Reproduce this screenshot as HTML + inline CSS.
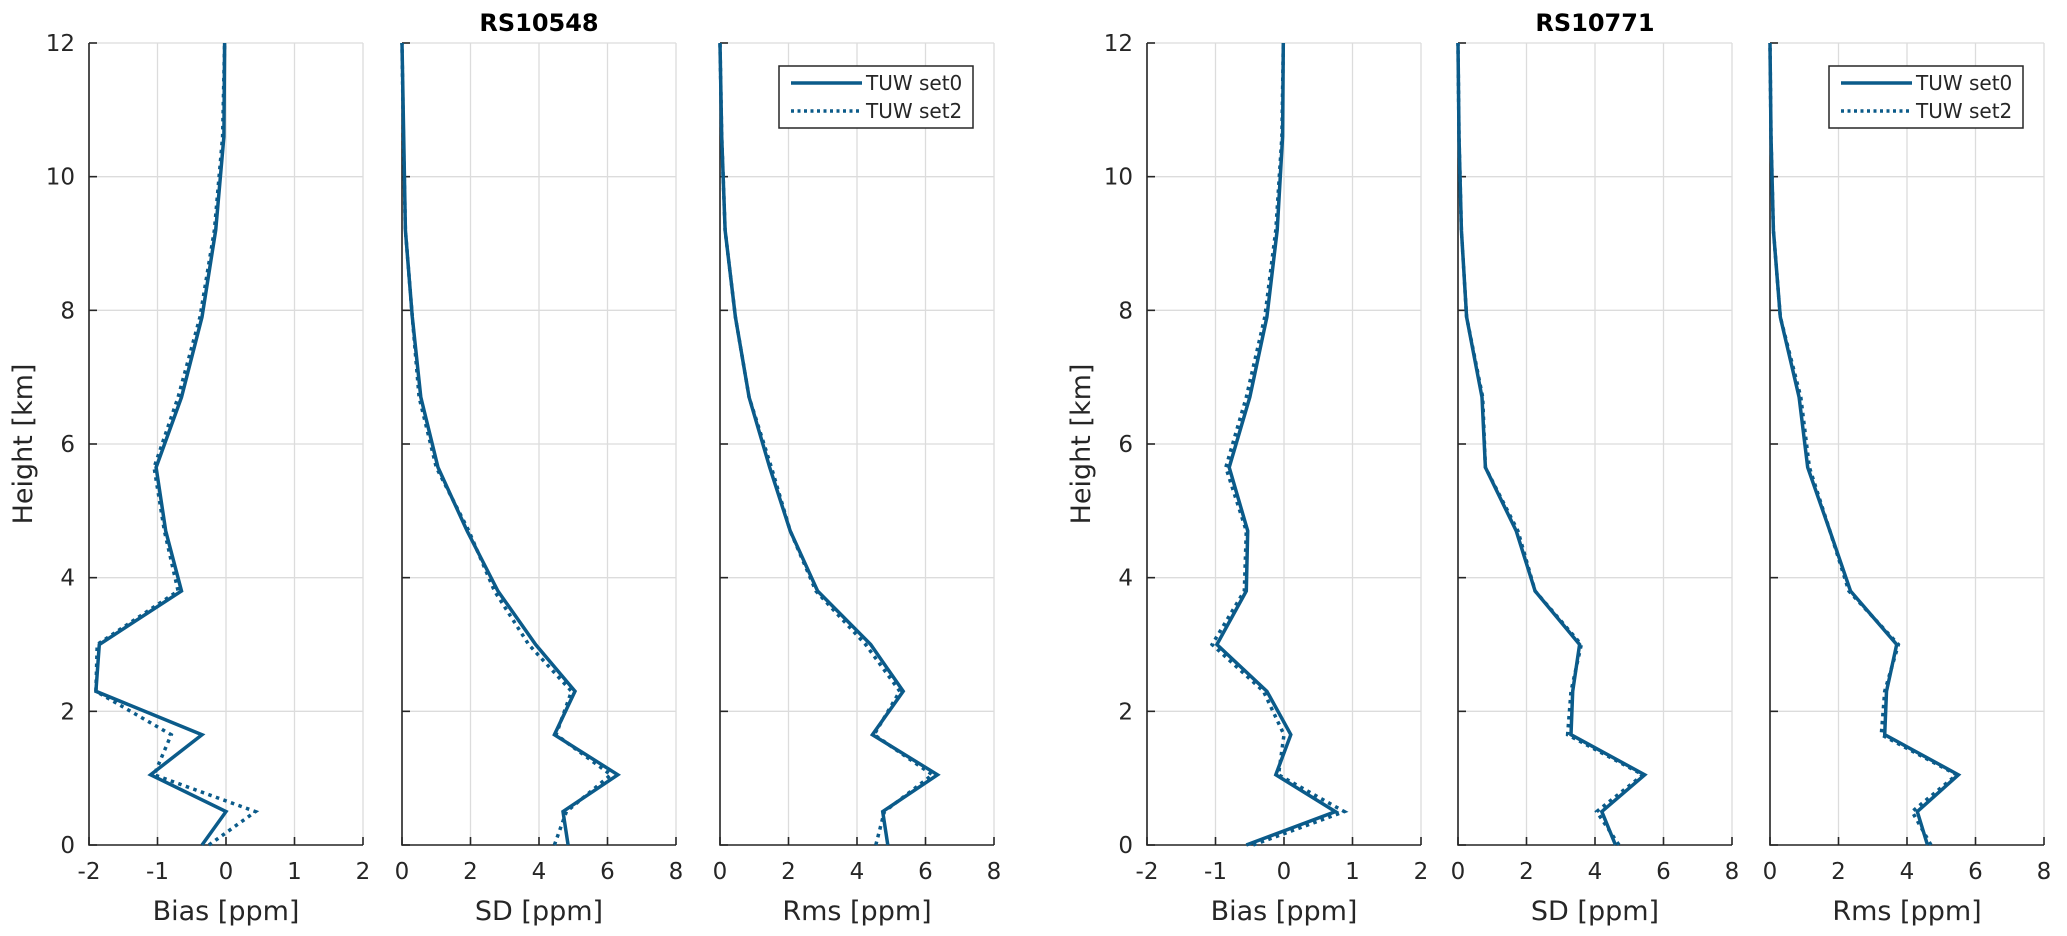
<!DOCTYPE html>
<html><head><meta charset="utf-8"><style>
html,body{margin:0;padding:0;background:#fff;}
svg{display:block;font-family:"DejaVu Sans","Liberation Sans",sans-serif;}
</style></head><body>
<svg id="chart" width="2067" height="936" viewBox="0 0 2067 936" xmlns="http://www.w3.org/2000/svg">
<text x="539" y="31" text-anchor="middle" font-weight="bold" font-size="24">RS10548</text>
<text x="1595" y="31" text-anchor="middle" font-weight="bold" font-size="24">RS10771</text>
</svg>
<script>
const heights = [0,0.5,1.05,1.65,2.3,3.0,3.8,4.7,5.65,6.7,7.9,9.2,10.6,12];
const bias1Set0 = [-0.35,0.0,-1.1,-0.35,-1.9,-1.85,-0.65,-0.88,-1.02,-0.65,-0.35,-0.15,-0.03,-0.02];
const bias1Set2 = [-0.25,0.43,-1.05,-0.8,-1.9,-1.88,-0.7,-0.9,-1.05,-0.7,-0.38,-0.17,-0.05,-0.02];
const sd1Set0 = [4.85,4.7,6.3,4.45,5.05,3.9,2.8,1.9,1.05,0.55,0.3,0.1,0.05,0];
const sd1Set2 = [4.45,4.8,6.1,4.5,4.95,3.7,2.7,1.95,1.0,0.5,0.3,0.1,0.04,0];
const rms1Set0 = [4.9,4.75,6.35,4.45,5.35,4.4,2.85,2.05,1.45,0.85,0.45,0.15,0.05,0];
const rms1Set2 = [4.55,4.8,6.2,4.5,5.25,4.25,2.8,2.05,1.5,0.85,0.45,0.15,0.05,0];
const bias2Set0 = [-0.55,0.75,-0.12,0.1,-0.25,-0.98,-0.55,-0.53,-0.8,-0.5,-0.25,-0.1,-0.02,-0.01];
const bias2Set2 = [-0.45,0.88,-0.08,0.0,-0.3,-1.05,-0.58,-0.55,-0.85,-0.55,-0.28,-0.12,-0.03,-0.01];
const sd2Set0 = [4.6,4.2,5.45,3.3,3.35,3.55,2.25,1.7,0.8,0.7,0.25,0.1,0.03,0];
const sd2Set2 = [4.7,4.05,5.4,3.2,3.3,3.6,2.25,1.75,0.8,0.72,0.25,0.1,0.03,0];
const rms2Set0 = [4.6,4.3,5.5,3.35,3.4,3.7,2.35,1.75,1.1,0.85,0.3,0.1,0.03,0];
const rms2Set2 = [4.7,4.15,5.45,3.25,3.35,3.75,2.3,1.75,1.15,0.9,0.3,0.1,0.03,0];
const yTicks = [0,2,4,6,8,10,12];
const biasTicks = [-2,-1,0,1,2];
const ppmTicks = [0,2,4,6,8];

const NS="http://www.w3.org/2000/svg";
const svg=document.getElementById('chart');
const COLOR="#0b5b8a";
const TOP=43, BOT=845, W=274;
function mk(tag,attrs,parent){const e=document.createElementNS(NS,tag);for(const k in attrs)e.setAttribute(k,attrs[k]);(parent||svg).appendChild(e);return e;}

const panels=[
 {x:89, ticks:biasTicks, min:-2,max:2, label:'Bias [ppm]', s0:bias1Set0, s2:bias1Set2, ylab:true, name:'bias-rs10548'},
 {x:402, ticks:ppmTicks, min:0,max:8, label:'SD [ppm]', s0:sd1Set0, s2:sd1Set2, name:'sd-rs10548'},
 {x:720, ticks:ppmTicks, min:0,max:8, label:'Rms [ppm]', s0:rms1Set0, s2:rms1Set2, legend:true, name:'rms-rs10548'},
 {x:1147, ticks:biasTicks, min:-2,max:2, label:'Bias [ppm]', s0:bias2Set0, s2:bias2Set2, ylab:true, name:'bias-rs10771'},
 {x:1458, ticks:ppmTicks, min:0,max:8, label:'SD [ppm]', s0:sd2Set0, s2:sd2Set2, name:'sd-rs10771'},
 {x:1770, ticks:ppmTicks, min:0,max:8, label:'Rms [ppm]', s0:rms2Set0, s2:rms2Set2, legend:true, name:'rms-rs10771'}
];

panels.forEach(p=>{
  const g=mk('g',{});
  
  
  const xs=v=>p.x+(v-p.min)/(p.max-p.min)*W;
  const ys=v=>BOT-(v/12)*(BOT-TOP);
  yTicks.forEach(t=>{
    const l=mk('line',{x1:p.x,x2:p.x+W,y1:ys(t),y2:ys(t),stroke:'#dcdcdc','stroke-width':1.3},g);
    
    
  });
  p.ticks.forEach(t=>{
    const l=mk('line',{x1:xs(t),x2:xs(t),y1:TOP,y2:BOT,stroke:'#dcdcdc','stroke-width':1.3},g);
    
    
  });
  const ax=mk('path',{d:`M${p.x},${TOP}V${BOT}H${p.x+W}`,fill:'none',stroke:'#262626','stroke-width':1.6},g);
  
  
  yTicks.forEach(t=>{
    mk('line',{x1:p.x,x2:p.x+8,y1:ys(t),y2:ys(t),stroke:'#262626','stroke-width':1.6},g);
    if(p.ylab){
      const tx=mk('text',{x:p.x-14,y:ys(t)+8,'text-anchor':'end','font-size':23,fill:'#262626'},g);
      tx.textContent=t;
      
      
    }
  });
  p.ticks.forEach(t=>{
    mk('line',{x1:xs(t),x2:xs(t),y1:BOT,y2:BOT-8,stroke:'#262626','stroke-width':1.6},g);
    const tx=mk('text',{x:xs(t),y:BOT+34,'text-anchor':'middle','font-size':23,fill:'#262626'},g);
    tx.textContent=t;
    
    
  });
  const xl=mk('text',{x:p.x+W/2,y:BOT+75,'text-anchor':'middle','font-size':27,fill:'#262626'},g);
  xl.textContent=p.label;
  
  
  if(p.ylab){
    const cx=p.x-57, cy=(TOP+BOT)/2;
    const yl=mk('text',{x:cx,y:cy,'text-anchor':'middle','font-size':27,fill:'#262626',transform:`rotate(-90 ${cx} ${cy})`},g);
    yl.textContent='Height [km]';
    
    
  }
  const pts=arr=>arr.map((v,i)=>xs(v).toFixed(1)+','+ys(heights[i]).toFixed(1)).join(' ');
  const l2=mk('polyline',{points:pts(p.s2),fill:'none',stroke:COLOR,'stroke-width':3.5,'stroke-dasharray':'3.5 4.5'},g);
  
  
  const l0=mk('polyline',{points:pts(p.s0),fill:'none',stroke:COLOR,'stroke-width':3.5,'stroke-linejoin':'miter'},g);
  
  
  if(p.legend){
    const lg=mk('g',{},g);
    
    
    const lx=p.x+W-215, ly=66;
    mk('rect',{x:lx,y:ly,width:194,height:62,fill:'#fff',stroke:'#262626','stroke-width':1.5},lg);
    const e1=mk('line',{x1:lx+12,x2:lx+83,y1:ly+17,y2:ly+17,stroke:COLOR,'stroke-width':3.5},lg);
    
    
    const e2=mk('line',{x1:lx+12,x2:lx+83,y1:ly+45,y2:ly+45,stroke:COLOR,'stroke-width':3.5,'stroke-dasharray':'3 3.5'},lg);
    
    
    const t1=mk('text',{x:lx+87,y:ly+24,'font-size':20,fill:'#262626'},lg);t1.textContent='TUW set0';
    
    
    const t2=mk('text',{x:lx+87,y:ly+52,'font-size':20,fill:'#262626'},lg);t2.textContent='TUW set2';
    
    
  }
});
</script>
</body></html>
